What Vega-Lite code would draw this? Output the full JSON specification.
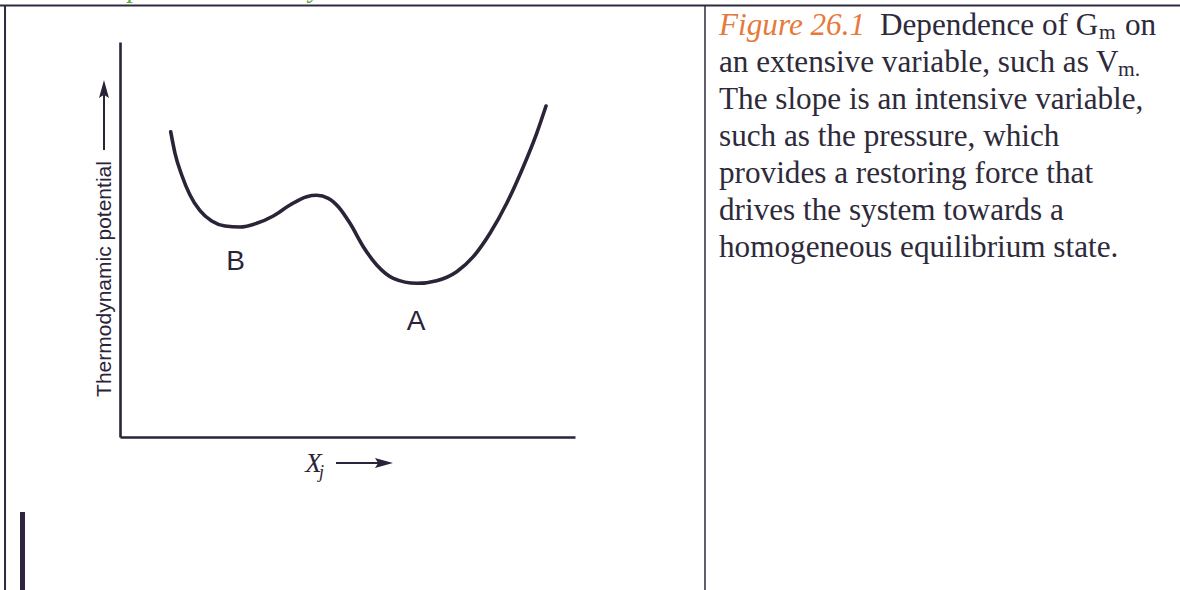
{
  "$schema": "https://vega.github.io/schema/vega-lite/v6.json",
  "width": 455,
  "height": 395,
  "autosize": {"type": "none"},
  "padding": {"left": 120, "top": 42, "right": 605, "bottom": 153},
  "background": "white",
  "config": {
    "view": {"stroke": null},
    "axis": {
      "grid": false,
      "ticks": false,
      "labels": false,
      "domainColor": "#2b2338",
      "domainWidth": 2.6,
      "titleColor": "#2b2338",
      "titleFontWeight": "normal"
    }
  },
  "datasets": {
    "curve": [
      {"x": 1.114, "y": 7.729}, {"x": 1.209, "y": 7.182}, {"x": 1.356, "y": 6.633},
      {"x": 1.538, "y": 6.127}, {"x": 1.758, "y": 5.729}, {"x": 2.015, "y": 5.468},
      {"x": 2.308, "y": 5.342}, {"x": 2.637, "y": 5.316}, {"x": 3.004, "y": 5.41},
      {"x": 3.369, "y": 5.595}, {"x": 3.736, "y": 5.873}, {"x": 4.103, "y": 6.084},
      {"x": 4.323, "y": 6.119}, {"x": 4.578, "y": 6.043}, {"x": 4.798, "y": 5.83},
      {"x": 5.055, "y": 5.41}, {"x": 5.347, "y": 4.818}, {"x": 5.642, "y": 4.354},
      {"x": 6.007, "y": 4.018}, {"x": 6.521, "y": 3.891}, {"x": 6.96, "y": 3.957},
      {"x": 7.4, "y": 4.185}, {"x": 7.765, "y": 4.565}, {"x": 8.132, "y": 5.157},
      {"x": 8.499, "y": 5.916}, {"x": 8.864, "y": 6.843}, {"x": 9.158, "y": 7.689},
      {"x": 9.363, "y": 8.38}
    ],
    "states": [
      {"x": 2.538, "y": 4.228, "text": "B"},
      {"x": 6.505, "y": 2.709, "text": "A"}
    ],
    "frame": [
      {"x": -2.637, "x2": 23.297, "y": 10.924, "y2": 10.924},
      {"x": -2.527, "x2": -2.527, "y": 10.924, "y2": -3.95}
    ],
    "divider": [{"x": 12.857, "x2": 12.857, "y": 10.924, "y2": -3.95}],
    "bar": [{"x": -2.143, "x2": -2.143, "y": -1.899, "y2": -3.95}],
    "shafts": [
      {"x": -0.352, "x2": -0.352, "y": 7.266, "y2": 8.66},
      {"x": 4.747, "x2": 5.714, "y": -0.658, "y2": -0.658}
    ],
    "headUp": [{"x": -0.352, "y": 8.81}],
    "headRight": [{"x": 5.802, "y": -0.658}],
    "subscriptJ": [{"x": 4.374, "y": -1.05, "text": "j"}],
    "captionLead": [{"x": 13.165, "y": 10.177, "text": "Figure 26.1"}],
    "captionBody": [
      {"x": 16.703, "y": 10.177, "text": "Dependence of G"},
      {"x": 22.088, "y": 10.177, "text": "on"},
      {"x": 13.165, "y": 9.241, "text": "an extensive variable, such as V"},
      {"x": 13.165, "y": 8.304, "text": "The slope is an intensive variable,"},
      {"x": 13.165, "y": 7.367, "text": "such as the pressure, which"},
      {"x": 13.165, "y": 6.43, "text": "provides a restoring force that"},
      {"x": 13.165, "y": 5.494, "text": "drives the system towards a"},
      {"x": 13.165, "y": 4.557, "text": "homogeneous equilibrium state."}
    ],
    "captionSub": [
      {"x": 21.516, "y": 10.076, "text": "m"},
      {"x": 21.934, "y": 9.139, "text": "m."}
    ],
    "heading": [
      {"x": 0.176, "y": 11.13, "text": "p"},
      {"x": 4.154, "y": 11.13, "text": "y"}
    ]
  },
  "encoding": {
    "x": {
      "field": "x",
      "type": "quantitative",
      "scale": {"domain": [0, 10], "nice": false, "zero": false},
      "axis": {
        "title": "X",
        "titleFont": "Liberation Serif",
        "titleFontStyle": "italic",
        "titleFontSize": 27,
        "titleX": 193,
        "titleY": 34,
        "titleAlign": "center",
        "titleBaseline": "alphabetic"
      }
    },
    "y": {
      "field": "y",
      "type": "quantitative",
      "scale": {"domain": [0, 10], "nice": false, "zero": false},
      "axis": {
        "title": "Thermodynamic potential",
        "titleFont": "Liberation Sans",
        "titleFontSize": 21,
        "titleAngle": 270,
        "titleX": -16,
        "titleY": 236.5,
        "titleAlign": "center",
        "titleBaseline": "middle"
      }
    }
  },
  "layer": [
    {
      "data": {"name": "frame"},
      "mark": {"type": "rule", "color": "#2f2a3d", "strokeWidth": 2},
      "encoding": {"x2": {"field": "x2"}, "y2": {"field": "y2"}}
    },
    {
      "data": {"name": "divider"},
      "mark": {"type": "rule", "color": "#2f2a3d", "strokeWidth": 1.5},
      "encoding": {"x2": {"field": "x2"}, "y2": {"field": "y2"}}
    },
    {
      "data": {"name": "bar"},
      "mark": {"type": "rule", "color": "#2f2540", "strokeWidth": 5},
      "encoding": {"x2": {"field": "x2"}, "y2": {"field": "y2"}}
    },
    {
      "data": {"name": "curve"},
      "mark": {"type": "line", "color": "#2b2338", "strokeWidth": 3.6, "interpolate": "monotone", "strokeCap": "round"}
    },
    {
      "data": {"name": "states"},
      "mark": {"type": "text", "font": "Liberation Sans", "fontSize": 28, "color": "#2b2338", "align": "center", "baseline": "alphabetic"},
      "encoding": {"text": {"field": "text"}}
    },
    {
      "data": {"name": "shafts"},
      "mark": {"type": "rule", "color": "#2b2338", "strokeWidth": 2},
      "encoding": {"x2": {"field": "x2"}, "y2": {"field": "y2"}}
    },
    {
      "data": {"name": "headUp"},
      "mark": {"type": "point", "shape": "M0,-1L0.55,1L0,0.65L-0.55,1Z", "size": 324, "filled": true, "color": "#2b2338", "opacity": 1}
    },
    {
      "data": {"name": "headRight"},
      "mark": {"type": "point", "shape": "M0,-1L0.55,1L0,0.65L-0.55,1Z", "size": 324, "filled": true, "color": "#2b2338", "opacity": 1, "angle": 90}
    },
    {
      "data": {"name": "subscriptJ"},
      "mark": {"type": "text", "font": "Liberation Serif", "fontStyle": "italic", "fontSize": 18, "color": "#2b2338", "align": "left", "baseline": "alphabetic"},
      "encoding": {"text": {"field": "text"}}
    },
    {
      "data": {"name": "captionLead"},
      "mark": {"type": "text", "font": "Liberation Serif", "fontStyle": "italic", "fontSize": 31.2, "color": "#e57a3c", "align": "left", "baseline": "alphabetic"},
      "encoding": {"text": {"field": "text"}}
    },
    {
      "data": {"name": "captionBody"},
      "mark": {"type": "text", "font": "Liberation Serif", "fontSize": 31.2, "color": "#2e2a3a", "align": "left", "baseline": "alphabetic"},
      "encoding": {"text": {"field": "text"}}
    },
    {
      "data": {"name": "captionSub"},
      "mark": {"type": "text", "font": "Liberation Serif", "fontSize": 21.5, "color": "#2e2a3a", "align": "left", "baseline": "alphabetic"},
      "encoding": {"text": {"field": "text"}}
    },
    {
      "data": {"name": "heading"},
      "mark": {"type": "text", "font": "Liberation Serif", "fontStyle": "italic", "fontSize": 27, "color": "#5aa83c", "align": "left", "baseline": "alphabetic"},
      "encoding": {"text": {"field": "text"}}
    }
  ]
}
